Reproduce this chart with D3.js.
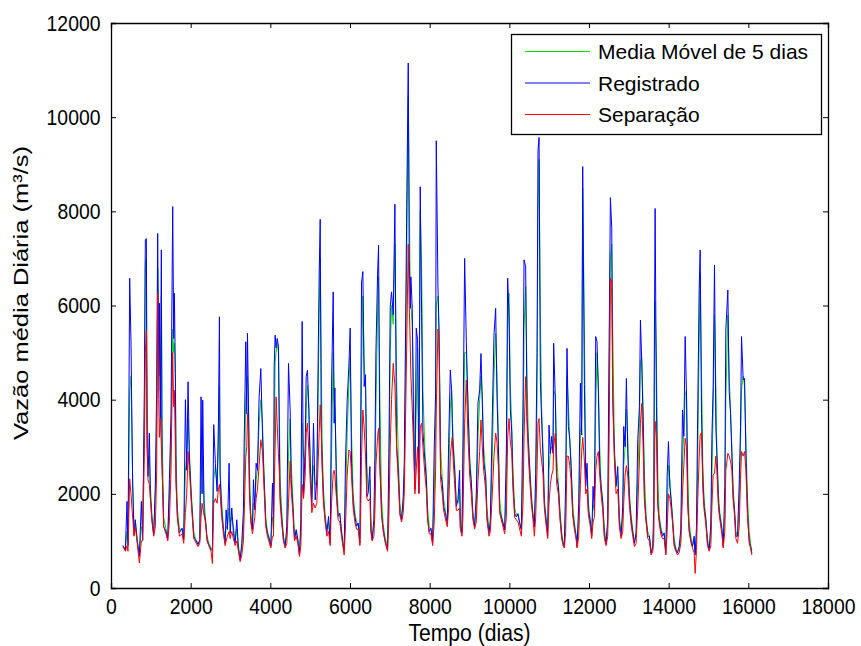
<!DOCTYPE html>
<html>
<head>
<meta charset="utf-8">
<script src="https://cdn.jsdelivr.net/npm/d3@7"></script>
<style>
  body { margin: 0; background: #fff; }
  text { font-family: "Liberation Sans", Arial, sans-serif; }
</style>
</head>
<body>
<div id="chart"></div>
<script>
// dias (eixo x)
const days = [
  301,360,402,427,469,502,544,578,611,653,712,762,795,837,862,888,904,930,963,988,
  1030,1072,1114,1147,1172,1198,1214,1239,1264,1281,1323,1382,1424,1466,1507,1549,1574,1591,1616,1633,
  1666,1717,1784,1826,1868,1901,1935,1968,2018,2077,2119,2186,2228,2261,2286,2303,2337,2370,2412,2454,
  2512,2546,2579,2621,2663,2697,2722,2739,2781,2823,2865,2890,2923,2965,2990,3032,3074,3116,3158,3200,
  3242,3283,3325,3342,3384,3409,3426,3451,3476,3509,3551,3576,3610,3643,3677,3719,3761,3803,3828,3853,
  3886,3928,3978,4012,4054,4079,4096,4121,4146,4171,4205,4230,4246,4288,4330,4372,4414,4456,4498,4523,
  4565,4607,4649,4690,4732,4766,4799,4833,4875,4900,4933,4967,5000,5042,5084,5126,5168,5193,5226,5252,
  5277,5302,5335,5377,5419,5461,5503,5536,5578,5603,5620,5661,5703,5745,5787,5829,5854,5887,5929,5971,
  6005,6038,6080,6122,6164,6206,6248,6264,6290,6323,6356,6390,6424,6457,6499,6524,6557,6599,6625,6650,
  6692,6717,6750,6792,6834,6876,6918,6943,6976,7010,7043,7085,7127,7169,7211,7253,7295,7336,7362,7395,
  7429,7462,7487,7512,7529,7563,7596,7630,7663,7697,7730,7763,7797,7831,7881,7914,7948,7990,8032,8074,
  8115,8149,8166,8208,8233,8250,8275,8317,8350,8400,8442,8476,8518,8551,8568,8585,8627,8669,8710,8752,
  8769,8811,8836,8878,8920,8962,9004,9045,9087,9129,9171,9213,9255,9288,9322,9355,9405,9439,9489,9523,
  9573,9615,9657,9690,9724,9757,9799,9841,9883,9925,9958,9992,10025,10059,10092,10134,10176,10218,10260,10302,
  10344,10369,10410,10444,10478,10511,10553,10595,10628,10662,10695,10720,10746,10779,10812,10846,10879,10921,10963,10996,
  11030,11063,11097,11113,11155,11189,11231,11273,11314,11348,11381,11415,11448,11482,11516,11549,11591,11633,11675,11700,
  11742,11784,11817,11842,11884,11918,11951,11984,12026,12068,12102,12135,12169,12202,12236,12269,12303,12345,12387,12428,
  12470,12504,12537,12571,12596,12638,12680,12722,12763,12805,12847,12872,12906,12939,12973,13015,13057,13098,13140,13182,
  13224,13266,13291,13324,13358,13392,13433,13475,13517,13559,13601,13626,13635,13660,13693,13727,13761,13802,13844,13886,
  13928,13962,13995,14029,14062,14096,14137,14179,14221,14263,14305,14347,14380,14414,14447,14481,14514,14556,14598,14640,
  14665,14699,14724,14766,14791,14824,14858,14891,14933,14975,15017,15059,15084,15117,15151,15184,15209,15251,15285,15335,
  15369,15410,15435,15486,15519,15553,15586,15620,15653,15687,15729,15771,15804,15829,15871,15905,15938,15980,16022,16055,
  16089
];

// vazao registrada (m3/s)
const registrado = [
  900,800,1840,900,6580,5230,2190,1130,1450,1020,670,1840,1020,4200,7400,7420,3000,2370,3290,1950,
  1450,1130,2230,4280,7530,4500,6050,3500,7180,2650,1300,1200,1030,2300,3680,8100,5300,6260,4560,2300,
  1520,1170,1270,1030,4000,2500,4380,2720,1870,1100,1030,920,1030,4060,2000,3990,1600,1450,1030,920,
  810,800,3470,2640,2050,3500,5760,2400,1590,1235,950,1660,1240,2650,1160,1700,1160,950,1450,810,
  600,950,1660,3000,5230,3700,5410,3890,2090,1450,1240,2300,1660,2650,2500,4060,4660,3290,2650,2080,
  1370,1160,1020,880,2230,1240,4700,5370,5100,5300,5130,2860,1940,1450,1020,880,1310,4770,3780,2300,
  1730,1020,1240,1020,700,1450,5660,1940,3000,4490,4630,3780,2650,1730,3500,1870,2300,4280,6650,7830,
  3500,2650,1870,1450,1170,1520,950,4280,6290,3500,4250,2000,1520,1590,1170,880,810,2700,3990,4700,
  5520,2650,1800,1520,1310,1380,950,2800,6500,6720,4280,4530,1940,2020,2580,1240,1020,1450,2800,4980,
  6650,7280,2650,1590,1240,1020,880,810,2860,5970,6290,5800,8150,3000,2510,1590,1450,1940,2650,5480,
  8500,11150,6960,5940,6610,5940,3360,2090,5520,5270,2020,8520,5830,3320,2680,2330,1480,1200,1270,950,
  3000,4130,9500,6400,5600,4350,2440,2220,1730,1560,1380,3070,4630,4200,3500,3070,2500,1730,1870,2500,
  1310,1160,3140,7000,5230,3850,2650,2230,1510,1310,2000,3930,4210,4980,3930,2720,2370,1510,1160,1440,
  3650,5370,5940,4070,3000,1650,1510,1370,1230,2930,6580,5800,3780,3350,2230,1580,1510,1580,1370,1230,
  4000,6970,6820,3640,3070,2510,1870,1510,1300,2440,5000,9300,9570,4380,3550,2780,1800,1450,1100,3460,
  2860,3220,2860,5200,3990,2370,2160,1520,1100,950,880,2300,5090,3430,3150,2580,1590,1310,1100,880,
  1800,4350,3250,8950,4320,2160,2650,1650,1450,1100,2160,1650,5340,5230,4140,2580,2160,1800,1100,950,
  1450,5130,8290,7640,4070,2860,2160,2580,1380,1100,1730,3430,3000,4450,2860,1870,1450,1170,950,1170,
  3150,3850,5690,4810,3570,1940,1450,1100,1100,740,880,1730,4300,8060,3850,1800,1450,1240,1100,1170,
  740,2370,3110,2160,1870,1450,950,810,740,880,1240,3780,3220,5340,4140,1800,1240,1020,880,1100,
  700,1310,3360,6360,7180,3710,2300,1730,1450,950,810,1380,3150,4280,6860,3430,2860,1800,1520,1240,
  880,2160,5480,6330,4170,3710,2870,1940,1650,1100,1100,2230,3430,5340,4420,4450,2860,1590,1020,880,
  740
];

// media movel de 5 dias
const mediaMovel = [
  900,820,1200,1000,4140,4500,2300,1300,1400,1100,700,1300,1200,3500,6900,7000,4500,2600,2800,2200,
  1500,1200,1900,3500,6800,5500,5600,4200,6200,3500,1500,1250,1080,1800,3200,5500,5000,5200,4400,2800,
  1700,1250,1250,1080,2500,2800,3600,2900,2000,1200,1050,950,1000,2500,2600,2800,1900,1500,1100,950,
  850,820,2300,2600,2200,3000,4300,2500,1800,1300,1000,1300,1300,1700,1400,1500,1300,1000,1250,900,
  680,850,1300,2000,4000,4300,4490,4000,2600,1600,1300,1800,1800,2300,2500,3500,4000,3500,2800,2200,
  1500,1200,1050,900,1500,1400,3000,4800,5000,5200,5000,3500,2300,1600,1100,950,1100,2800,3600,2700,
  1900,1100,1200,1050,780,1100,3500,2800,2700,3800,4300,3900,2800,1900,2600,2200,2200,3500,5800,7000,
  5000,3000,2100,1550,1250,1400,1050,2800,5000,4000,3800,2500,1600,1550,1250,950,850,1800,3300,4300,
  4900,3300,2000,1600,1400,1350,1050,1800,4500,6200,4800,4200,2600,2100,2300,1500,1100,1300,2000,3800,
  5800,6600,4000,1900,1350,1100,950,850,2000,5000,6000,5600,7300,4500,2800,1800,1500,1800,2300,4500,
  7500,10450,8500,6200,6000,5600,4200,2600,3800,5100,3000,8000,6800,4200,2900,2500,1700,1300,1250,1050,
  2000,3500,6000,6200,5400,4600,3000,2300,1900,1600,1450,2300,3800,4200,3800,3200,2600,1850,1800,2100,
  1500,1200,2200,5000,5000,4000,2800,2300,1600,1350,1700,3200,4000,4500,4100,3000,2400,1700,1250,1350,
  2800,4500,5400,4500,3300,1900,1550,1400,1280,2000,5500,6260,4300,3500,2500,1700,1550,1550,1400,1250,
  2600,5500,6400,4500,3200,2600,2000,1600,1350,2000,4000,8000,9100,5800,3800,2900,1900,1500,1200,2500,
  2900,3000,3000,4200,4100,2800,2200,1650,1200,1000,900,1600,4500,3900,3200,2700,1800,1400,1150,950,
  1400,3300,3600,8490,5500,2600,2400,1800,1500,1200,1700,1800,3800,5000,4300,3000,2200,1850,1250,1000,
  1300,4200,7000,7300,5500,3000,2300,2400,1500,1200,1500,2600,3000,3800,3200,2000,1550,1250,1000,1100,
  2300,3500,4800,4900,3800,2400,1550,1200,1100,800,850,1300,3000,6080,4800,2400,1550,1300,1150,1150,
  800,1600,2600,2300,1900,1550,1050,850,780,820,1050,2700,3300,4100,4200,2400,1400,1100,900,1000,
  750,1100,2400,5200,6700,4600,2600,1850,1500,1050,850,1100,2300,3800,5800,4300,3000,2000,1600,1300,
  950,1500,4000,5800,4500,3800,3000,2100,1700,1200,1100,1700,3000,4200,4500,4300,3200,1900,1200,950,
  800
];

// separacao do escoamento
const separacao = [
  880,780,900,780,2320,2000,1500,1100,1300,1000,530,1000,1000,2800,5000,5480,3500,2300,2200,1900,
  1400,1100,1300,2500,6260,4000,3200,3600,3000,2600,1300,1150,1000,1400,2500,5000,3850,4200,3000,2200,
  1500,1100,1150,950,1600,2000,2900,2500,1800,1050,980,880,950,1500,1800,1700,1550,1400,1000,900,
  780,520,1800,1900,1800,2100,2200,2000,1500,1150,900,1000,1100,1200,1050,1200,1050,900,1000,780,
  560,700,1000,1500,2800,3000,3710,3200,2000,1400,1150,1300,1500,1900,2100,2600,3150,2900,2400,1900,
  1300,1100,950,850,1100,1100,2000,3000,4060,3500,2800,2400,1800,1350,1000,850,950,1800,2700,2100,
  1600,1000,1100,950,670,900,2200,1900,2400,3300,3500,2900,2300,1600,1800,1700,1800,2500,3300,3890,
  3400,2500,1800,1400,1100,1200,900,1800,2440,2500,2400,1900,1450,1400,1100,850,700,1300,2400,2930,
  2900,2400,1700,1400,1250,1250,900,1300,2800,3780,3400,2800,1900,1850,1900,1200,1000,1100,1600,2600,
  3200,3390,2600,1550,1200,1000,850,780,1500,3000,4000,4770,4300,3000,2300,1550,1400,1600,2000,3600,
  5500,7300,6000,5200,4500,3800,3000,2000,2500,3000,2000,3400,3500,3000,2400,2100,1450,1150,1150,900,
  1400,2500,3800,5500,5300,4000,2300,2000,1650,1450,1300,1700,2800,3100,3210,2800,2200,1650,1650,1700,
  1250,1100,1500,3500,4420,3200,2400,2000,1450,1250,1400,2300,2900,3570,3000,2500,2100,1450,1100,1200,
  2000,2800,3290,3100,2600,1600,1450,1300,1150,1500,3200,3600,3100,2900,2100,1500,1450,1400,1250,1100,
  1800,3200,4490,3500,2800,2300,1800,1450,1100,1500,2500,3500,3600,2930,2700,2400,1700,1350,1050,1800,
  2200,2400,2500,3000,3290,2200,2000,1450,1050,900,850,1200,2800,2800,2600,2300,1550,1250,1050,850,
  1100,2200,2900,3200,2700,2000,2100,1550,1350,1050,1400,1500,2500,2800,2900,2400,2000,1650,1050,900,
  1100,3000,6580,6500,4000,2700,2000,2100,1300,1050,1200,1800,2400,2600,2400,1750,1350,1100,880,950,
  1700,2700,3500,3920,3000,1850,1400,1050,1000,700,780,1000,2000,3540,3200,1750,1400,1150,1050,1050,
  700,1200,2000,1900,1700,1400,900,780,700,750,950,2000,2600,3180,3000,1750,1200,980,850,750,
  310,800,1700,2800,3250,3300,2100,1650,1350,900,780,900,1700,2400,2440,2800,2500,1700,1450,1150,
  850,1200,2500,2860,2800,2700,2500,1850,1550,1050,950,1300,2300,2900,2800,2900,2500,1500,950,850,
  700
];

const legendLabels = ["Media Móvel de 5 dias", "Registrado", "Separação"];
const xTicks = [0, 2000, 4000, 6000, 8000, 10000, 12000, 14000, 16000, 18000];
const yTicks = [0, 2000, 4000, 6000, 8000, 10000, 12000];

const width = 861,
    height = 646,
    margin = ({ top: 23, right: 33, bottom: 58, left: 111 });

const svg = d3.select("#chart")
    .append("svg")
    .attr("width", width)
    .attr("height", height)
    .style("background", "#fff");

let x = d3.scaleLinear()
    .domain([0, 18000])
    .range([margin.left, width - margin.right]);

let y = d3.scaleLinear()
    .domain([0, 12000])
    .range([height - margin.bottom, margin.top]);

svg.append("clipPath")
    .attr("id", "plotclip")
    .append("rect")
    .attr("x", margin.left)
    .attr("y", margin.top)
    .attr("width", width - margin.left - margin.right)
    .attr("height", height - margin.top - margin.bottom);

const series = [
    { name: legendLabels[0], values: mediaMovel, color: "#00e000" },
    { name: legendLabels[1], values: registrado, color: "#0000ff" },
    { name: legendLabels[2], values: separacao, color: "#ff0000" }
];

const line = d3.line()
    .x((d, i) => x(days[i]))
    .y(d => y(d));

svg.append("g")
    .attr("class", "plot")
    .attr("clip-path", "url(#plotclip)")
    .selectAll("path")
    .data(series)
    .join("path")
    .attr("fill", "none")
    .attr("stroke", d => d.color)
    .attr("stroke-width", 1)
    .attr("stroke-linejoin", "round")
    .attr("d", d => line(d.values));

// eixos no estilo MATLAB (ticks para dentro, caixa fechada)
const xAxis = svg.append("g")
    .attr("transform", `translate(0,${height - margin.bottom})`)
    .call(d3.axisBottom(x).tickValues(xTicks).tickSize(-5).tickPadding(10).tickFormat(d => d));

svg.append("g")
    .attr("transform", `translate(0,${margin.top})`)
    .call(d3.axisTop(x).tickValues(xTicks).tickSize(-5).tickFormat(""));

const yAxis = svg.append("g")
    .attr("transform", `translate(${margin.left},0)`)
    .call(d3.axisLeft(y).tickValues(yTicks).tickSize(-5).tickPadding(12).tickFormat(d => d));

svg.append("g")
    .attr("transform", `translate(${width - margin.right},0)`)
    .call(d3.axisRight(y).tickValues(yTicks).tickSize(-5).tickFormat(""));

svg.selectAll(".domain").attr("stroke", "#000").attr("stroke-width", 1.3);
svg.selectAll(".tick line").attr("stroke", "#000");
svg.selectAll(".tick text")
    .attr("fill", "#000")
    .style("font-size", "22px")
    .attr("transform", "scale(0.88,1)");

svg.append("text")
    .attr("text-anchor", "middle")
    .attr("transform", `translate(${(margin.left + width - margin.right) / 2},641) scale(0.88,1)`)
    .style("font-size", "24px")
    .text("Tempo (dias)");

svg.append("text")
    .attr("text-anchor", "middle")
    .attr("transform", "translate(28,293) scale(0.82,1) rotate(-90)")
    .style("font-size", "25.5px")
    .text("Vazão média Diária (m³/s)");

// legenda
const legend = svg.append("g").attr("class", "legend");

legend.append("rect")
    .attr("x", 511.5)
    .attr("y", 34.5)
    .attr("width", 310)
    .attr("height", 100)
    .attr("fill", "#fff")
    .attr("stroke", "#000")
    .attr("stroke-width", 1.3);

const items = legend.selectAll("g.item")
    .data(series)
    .join("g")
    .attr("class", "item")
    .attr("transform", (d, i) => `translate(0,${51.5 + i * 31.5})`);

items.append("line")
    .attr("x1", 525)
    .attr("x2", 590)
    .attr("stroke", d => d.color)
    .attr("stroke-width", 1);

items.append("text")
    .attr("x", 598)
    .attr("dy", "0.36em")
    .style("font-size", "21px")
    .text(d => d.name);
</script>
</body>
</html>
